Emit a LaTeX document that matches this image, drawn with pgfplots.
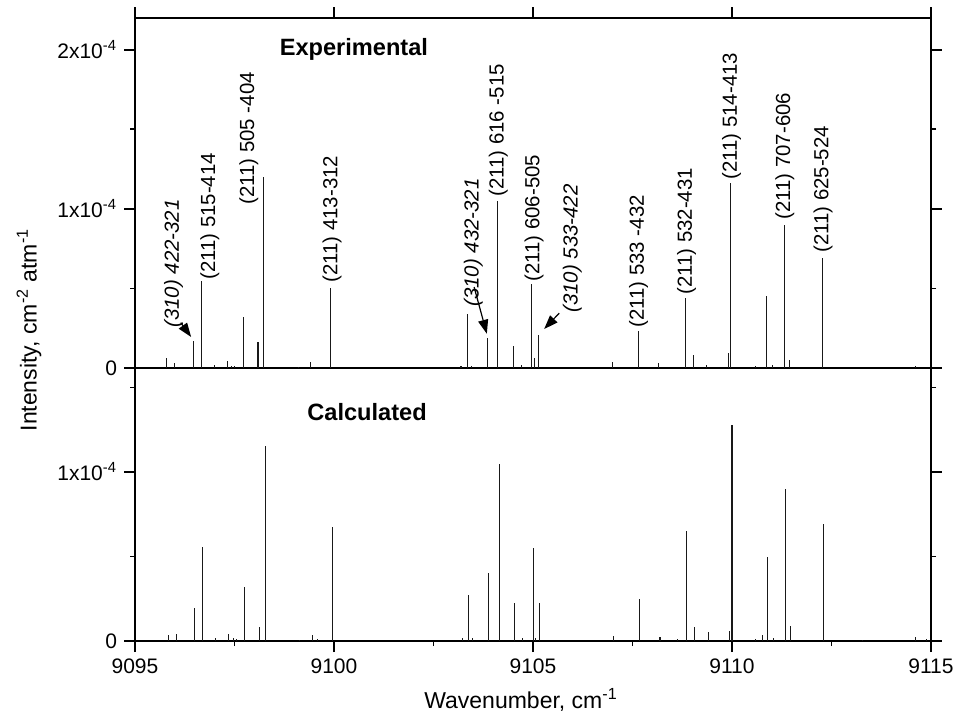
\documentclass[border=0pt]{standalone}
\usepackage{fontspec}
\setmainfont{Liberation Sans}
\usepackage{pgfplots}
\pgfplotsset{compat=1.18}
\usetikzlibrary{arrows.meta}

% intensities in cm^-2 atm^-1
\pgfplotstableread{
w I
9095.80 0.063e-4
9096.00 0.030e-4
9096.47 0.170e-4
9096.66 0.547e-4
9096.99 0.020e-4
9097.33 0.045e-4
9097.43 0.015e-4
9097.51 0.010e-4
9097.73 0.320e-4
9098.09 0.163e-4
9098.23 1.200e-4
9099.10 0.008e-4
9099.41 0.040e-4
9099.92 0.500e-4
9103.19 0.015e-4
9103.36 0.340e-4
9103.46 0.010e-4
9103.85 0.190e-4
9104.11 1.050e-4
9104.51 0.138e-4
9104.70 0.020e-4
9104.97 0.530e-4
9105.03 0.060e-4
9105.13 0.210e-4
9106.99 0.040e-4
9107.65 0.230e-4
9108.15 0.030e-4
9108.84 0.440e-4
9109.03 0.080e-4
9109.36 0.020e-4
9109.92 0.097e-4
9109.97 1.165e-4
9110.58 0.010e-4
9110.87 0.450e-4
9111.01 0.020e-4
9111.31 0.900e-4
9111.45 0.050e-4
9112.27 0.690e-4
9114.60 0.015e-4
}\expdata

\pgfplotstableread{
w I
9095.84 0.035e-4
9096.05 0.040e-4
9096.49 0.197e-4
9096.69 0.556e-4
9097.03 0.020e-4
9097.36 0.040e-4
9097.47 0.015e-4
9097.54 0.010e-4
9097.76 0.320e-4
9098.12 0.083e-4
9098.27 1.155e-4
9099.14 0.005e-4
9099.45 0.035e-4
9099.59 0.010e-4
9099.96 0.673e-4
9103.22 0.015e-4
9103.38 0.270e-4
9103.49 0.015e-4
9103.88 0.400e-4
9104.15 1.046e-4
9104.53 0.223e-4
9104.74 0.015e-4
9105.01 0.548e-4
9105.06 0.020e-4
9105.17 0.223e-4
9107.03 0.030e-4
9107.68 0.248e-4
9108.19 0.025e-4
9108.62 0.010e-4
9108.85 0.650e-4
9109.05 0.083e-4
9109.40 0.053e-4
9109.93 0.060e-4
9110.00 1.278e-4
9110.60 0.010e-4
9110.77 0.035e-4
9110.90 0.497e-4
9111.04 0.020e-4
9111.35 0.898e-4
9111.48 0.090e-4
9112.29 0.694e-4
9113.27 0.005e-4
9114.62 0.025e-4
9114.89 0.010e-4
}\calcdata

\pgfplotsset{
  spec/.style={
    width=398pt, scale only axis,
    xmin=9095, xmax=9115, ymin=0,
    xtick={9095,9100,...,9115},
    tick align=outside,
    major tick length=5.5pt, minor tick length=2.5pt,
    axis line style={line width=0.9pt},
    tick style={line width=0.9pt, black},
    scaled y ticks=false,
    tick label style={font=\fontsize{10.5}{12}\selectfont},
    /pgf/number format/assume math mode=true,
    /pgf/number format/1000 sep={},
    clip=false,
  },
  comb/.style={ycomb, black!90, line width=0.55pt, mark=none},
}
\tikzset{
  lab/.style={rotate=90, anchor=west, inner sep=0pt, font=\fontsize{10.2}{12}\selectfont},
  arr/.style={line width=0.6pt, -{Triangle[length=7pt,width=5pt]}},
}

\begin{document}
\begin{tikzpicture}
% lower panel: calculated
\begin{axis}[spec, at={(0pt,0pt)}, anchor=south west, height=136.5pt,
  ymax=1.615e-4,
  xtick pos=left,
  minor xtick={9097.5,9102.5,9107.5,9112.5},
  ytick={0,1e-4}, yticklabels={0, 1x10\textsuperscript{-4}},
  minor ytick={0.5e-4,1.5e-4},
]
\addplot[comb] table[x=w, y=I] {\calcdata};
\node[font=\bfseries\fontsize{11.8}{14}\selectfont] at (axis cs:9100.83,1.355e-4) {Calculated};
\end{axis}
% upper panel: experimental
\begin{axis}[spec, at={(0pt,136.5pt)}, anchor=south west, height=175pt,
  ymax=2.2e-4,
  xtick pos=right, xticklabels={},
  ytick={0,1e-4,2e-4}, yticklabels={0, 1x10\textsuperscript{-4}, 2x10\textsuperscript{-4}},
  minor ytick={0.5e-4,1.5e-4},
]
\addplot[comb] table[x=w, y=I] {\expdata};
\node[font=\bfseries\fontsize{11.8}{14}\selectfont] at (axis cs:9100.50,2.0e-4) {Experimental};
\node[lab] at (axis cs:9095.97,0.252e-4) {\itshape (310) 422-321};
\node[lab] at (axis cs:9096.88,0.553e-4) {(211) 515-414};
\node[lab] at (axis cs:9097.86,1.025e-4) {(211) 505 -404};
\node[lab] at (axis cs:9099.95,0.535e-4) {(211) 413-312};
\node[lab] at (axis cs:9103.50,0.384e-4) {\itshape (310) 432-321};
\node[lab] at (axis cs:9104.13,1.075e-4) {(211) 616 -515};
\node[lab] at (axis cs:9105.03,0.541e-4) {(211) 606-505};
\node[lab] at (axis cs:9105.99,0.346e-4) {\itshape (310) 533-422};
\node[lab] at (axis cs:9107.65,0.252e-4) {(211) 533 -432};
\node[lab] at (axis cs:9108.86,0.459e-4) {(211) 532-431};
\node[lab] at (axis cs:9109.99,1.182e-4) {(211) 514-413};
\node[lab] at (axis cs:9111.33,0.931e-4) {(211) 707-606};
\node[lab] at (axis cs:9112.29,0.723e-4) {(211) 625-524};
\draw[arr] (axis cs:9096.15,0.285e-4) -- (axis cs:9096.41,0.195e-4);
\draw[arr] (axis cs:9103.52,0.509e-4) -- (axis cs:9103.84,0.215e-4);
\draw[arr] (axis cs:9105.66,0.345e-4) -- (axis cs:9105.28,0.245e-4);
\end{axis}
% axis titles
\node[rotate=90, font=\fontsize{11.5}{14}\selectfont] at (-53pt,155.5pt)
  {Intensity, cm\textsuperscript{-2} atm\textsuperscript{-1}};
\node[anchor=base, font=\fontsize{11.5}{14}\selectfont] at (193pt,-33.5pt)
  {Wavenumber, cm\textsuperscript{-1}};
\pgfresetboundingbox
\path (-67.5pt,-36pt) rectangle (411pt,320.5pt);
\end{tikzpicture}
\end{document}
